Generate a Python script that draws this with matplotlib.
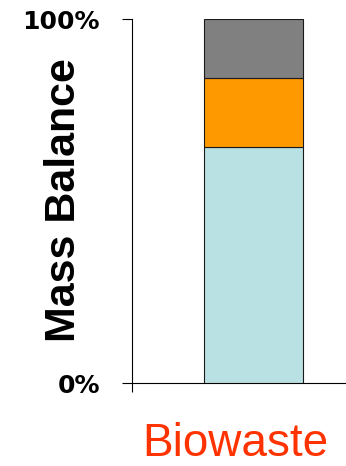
import matplotlib
matplotlib.use("Agg")
import matplotlib.pyplot as plt

plt.rcParams['font.family'] = ['Liberation Sans', 'DejaVu Sans']

# one stacked bar, shares in percent (bottom to top)
category = "Biowaste"
shares = [65, 19, 16]
colors = ['#b9e0e3', '#ff9900', '#808080']
ytick_vals = [0, 100]
ytick_labels = ['0%', '100%']

fig = plt.figure(figsize=(3.46, 4.66), dpi=100)
ax = fig.add_axes([0.3806, 0.1775, 0.7052, 0.7811])

bottom = 0
for val, col in zip(shares, colors):
    ax.bar(0, val, width=0.4045, bottom=bottom, color=col,
           edgecolor='#1a1a1a', linewidth=0.8, zorder=3)
    bottom += val

ax.set_xlim(-0.5, 0.5)
ax.set_ylim(0, 100)
ax.spines['top'].set_visible(False)
ax.spines['right'].set_visible(False)
ax.spines['left'].set_linewidth(0.8)
ax.spines['bottom'].set_linewidth(0.8)

ax.set_yticks(ytick_vals)
ax.set_yticklabels(ytick_labels, family='DejaVu Sans', fontweight='bold', fontsize=18)
ax.tick_params(axis='y', direction='out', length=7.2, width=0.8, pad=15.6)
ax.set_xticks([-0.5, 0.5])
ax.set_xticklabels([])
ax.tick_params(axis='x', direction='out', length=6.5, width=0.8)

fig.text(75 / 346, 0.5698, 'Mass Balance', rotation=90, rotation_mode='anchor',
         ha='center', va='baseline', fontsize=31, fontweight='bold')
fig.text(235 / 346, 0.0215, category, ha='center', va='baseline',
         fontsize=33, color='#ff3300')

fig.savefig('out.png', dpi=100)
